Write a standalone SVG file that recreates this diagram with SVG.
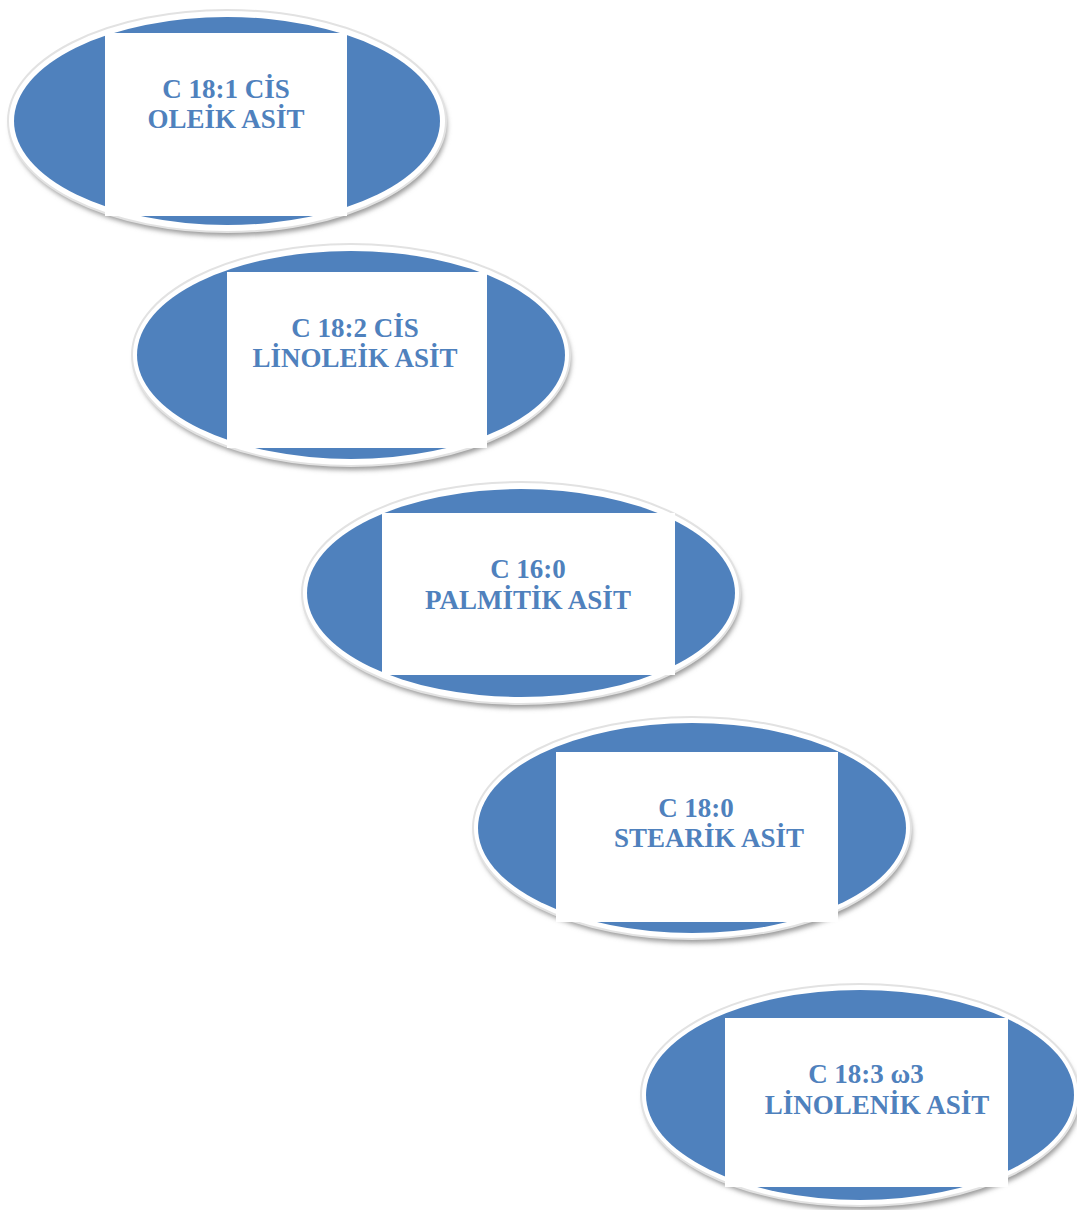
<svg xmlns="http://www.w3.org/2000/svg" width="1077" height="1210" viewBox="0 0 1077 1210">
<defs>
<filter id="sh" x="-10%" y="-10%" width="120%" height="130%">
<feGaussianBlur stdDeviation="2.5"/>
</filter>
</defs>
<style>
.sh{fill:#9a9a9a;filter:url(#sh)}
.ring{fill:#ffffff;stroke:#e2e2e2;stroke-width:2}
.blue{fill:#4f81bd}
.box{fill:#ffffff}
.t{font-family:"Liberation Serif","Times New Roman",serif;font-weight:bold;font-size:27px;fill:#4f81bd;text-anchor:middle}
</style>
<rect width="1077" height="1210" fill="#ffffff"/>
<g id="node1">
<ellipse class="sh" cx="229" cy="126" rx="218" ry="110"/>
<ellipse class="ring" cx="227" cy="121" rx="219" ry="111"/>
<ellipse class="blue" cx="227" cy="121" rx="213" ry="104"/>
<rect class="box" x="105" y="33" width="242" height="183"/>
<text class="t" x="226" y="98">C 18:1 CİS</text>
<text class="t" x="226" y="128">OLEİK ASİT</text>
</g>
<g id="node2">
<ellipse class="sh" cx="353" cy="360" rx="218" ry="110"/>
<ellipse class="ring" cx="351" cy="355" rx="219" ry="111"/>
<ellipse class="blue" cx="351" cy="355" rx="214" ry="104"/>
<rect class="box" x="227" y="272" width="260" height="176"/>
<text class="t" x="355" y="337">C 18:2 CİS</text>
<text class="t" x="355" y="367">LİNOLEİK ASİT</text>
</g>
<g id="node3">
<ellipse class="sh" cx="523" cy="598" rx="218" ry="110"/>
<ellipse class="ring" cx="521" cy="593" rx="219" ry="111"/>
<ellipse class="blue" cx="521" cy="593" rx="214" ry="104"/>
<rect class="box" x="382" y="513" width="293" height="162"/>
<text class="t" x="528" y="578">C 16:0</text>
<text class="t" x="528" y="609">PALMİTİK ASİT</text>
</g>
<g id="node4">
<ellipse class="sh" cx="694" cy="833" rx="218" ry="110"/>
<ellipse class="ring" cx="692" cy="828" rx="219" ry="111"/>
<ellipse class="blue" cx="692" cy="828" rx="214" ry="105"/>
<rect class="box" x="556" y="752" width="282" height="170"/>
<text class="t" x="696" y="817">C 18:0</text>
<text class="t" x="709" y="847">STEARİK ASİT</text>
</g>
<g id="node5">
<ellipse class="sh" cx="862" cy="1100" rx="218" ry="110"/>
<ellipse class="ring" cx="860" cy="1095" rx="219" ry="111"/>
<ellipse class="blue" cx="860" cy="1095" rx="214" ry="105"/>
<rect class="box" x="725" y="1018" width="283" height="169"/>
<text class="t" x="866" y="1083">C 18:3 ω3</text>
<text class="t" x="877" y="1114">LİNOLENİK ASİT</text>
</g>
<g id="connectors"/>
</svg>
